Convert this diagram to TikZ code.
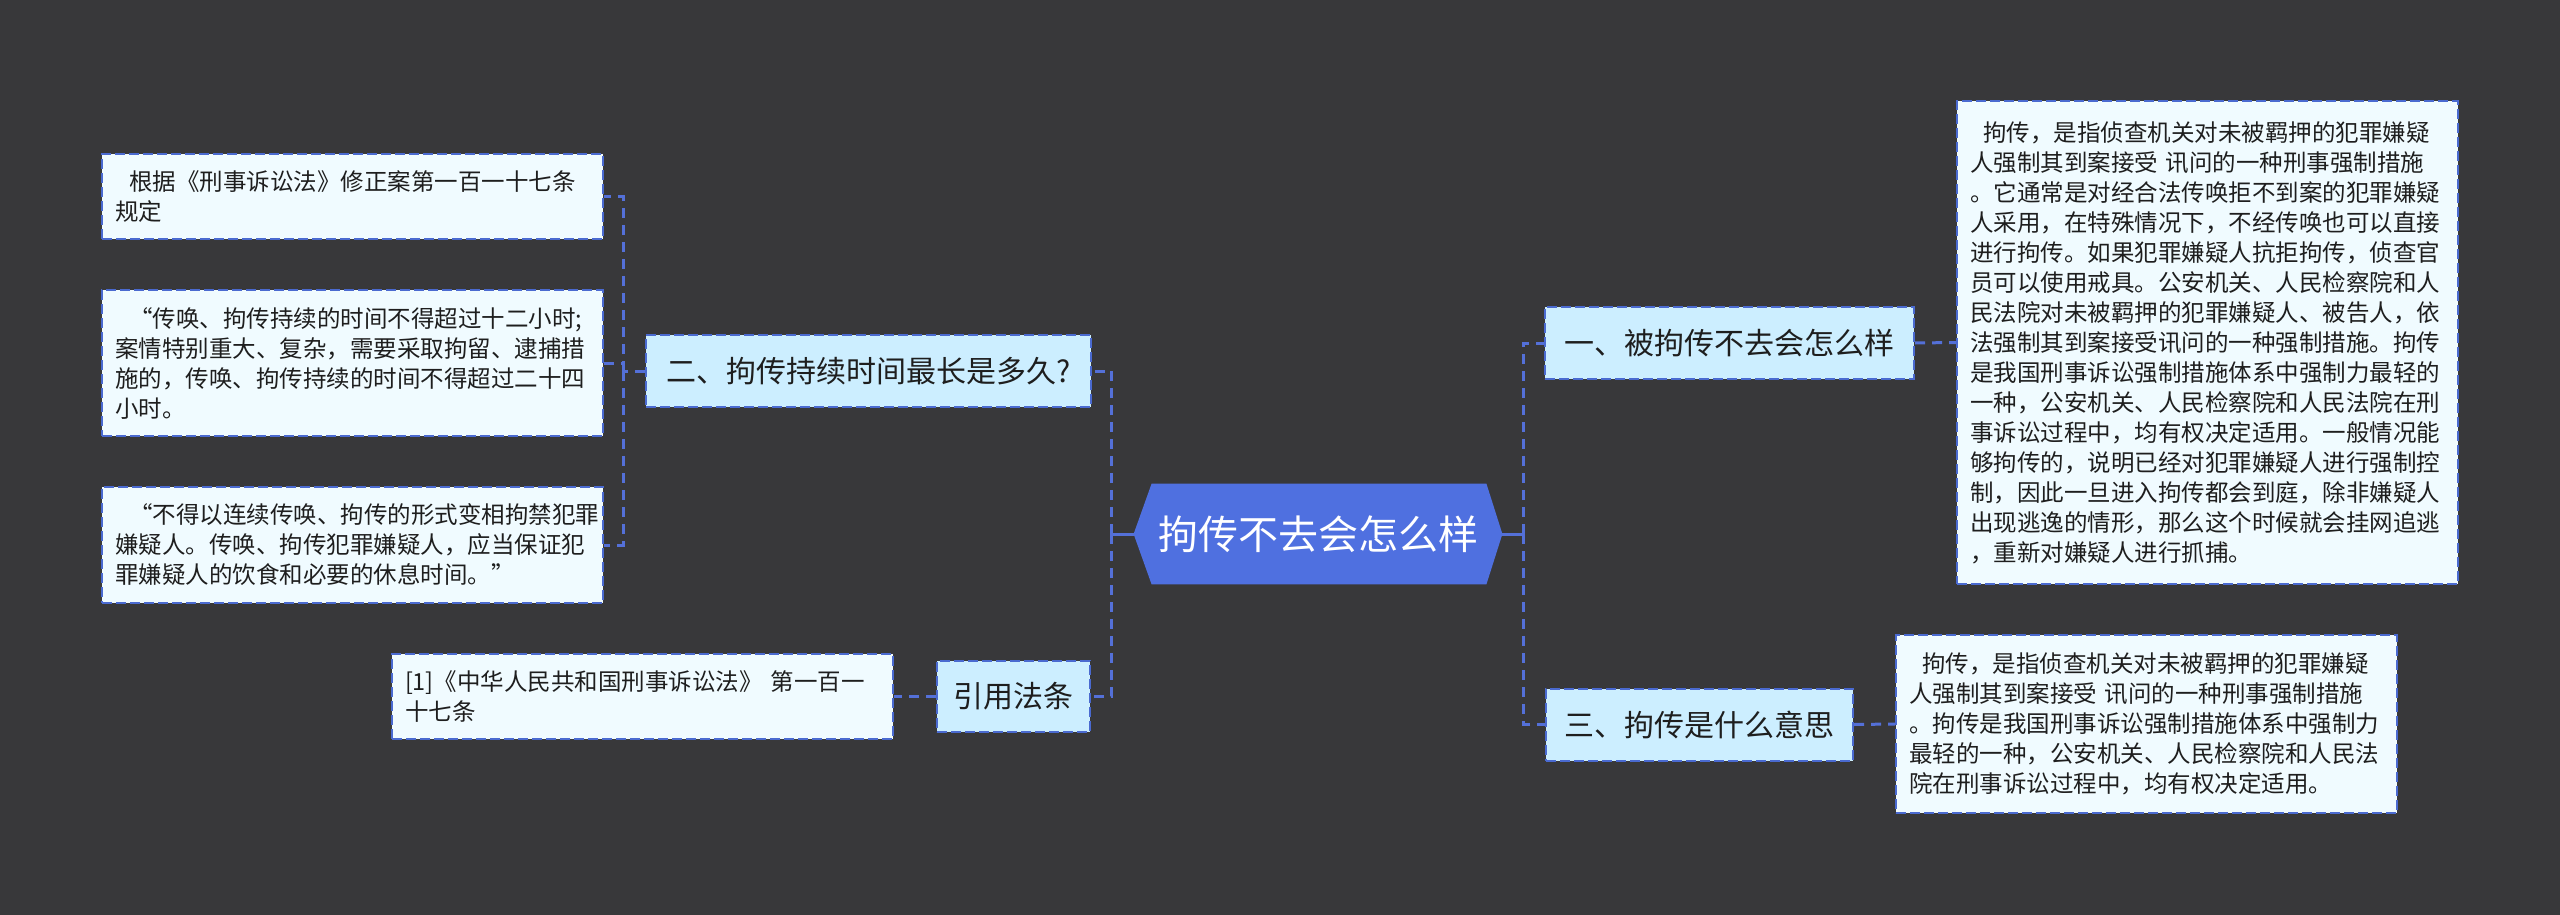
\documentclass[tikz,border=0pt]{standalone}
\usepackage{fontspec}
\setmainfont{Noto Sans CJK SC}
\usetikzlibrary{backgrounds}
\definecolor{bgc}{HTML}{38383A}
\definecolor{linec}{HTML}{5470D8}
\definecolor{borderc}{HTML}{4A6AD0}
\definecolor{detfill}{HTML}{F0FBFF}
\definecolor{brfill}{HTML}{CCEEFF}
\definecolor{cfill}{HTML}{4F70E0}
\definecolor{txt}{HTML}{1E1E1E}
\begin{document}
\begin{tikzpicture}[x=0.5pt,y=-0.5pt,
  detail/.style={draw=borderc,line width=1pt,dash pattern=on 5pt off 2pt,fill=detfill,text=txt,text width=237.5pt,inner xsep=6.5pt,inner ysep=0pt,align=left,font=\fontsize{11.75pt}{15pt}\selectfont},
  branch/.style={draw=borderc,line width=1pt,dash pattern=on 5pt off 2pt,fill=brfill,text=txt,inner sep=0pt,minimum height=36pt,font=\fontsize{15pt}{18pt}\selectfont},
  conn/.style={draw=linec,line width=1.5pt,dash pattern=on 5pt off 3.5pt},
  stub/.style={draw=linec,line width=1.5pt}]
\useasboundingbox (0,0) rectangle (2560,915);
\begin{scope}[on background layer]
\fill[bgc] (0,0) rectangle (2560,915);
\end{scope}

% central
\node[minimum width=184pt,minimum height=50pt,inner sep=0pt,text=white,font=\fontsize{20pt}{24pt}\selectfont] (c) at (1318,534) {拘传不去会怎么样};
\begin{scope}[on background layer]
\fill[cfill] (c.west) -- ([xshift=9pt]c.north west) -- ([xshift=-8pt]c.north east) -- (c.east) -- ([xshift=-8pt]c.south east) -- ([xshift=9pt]c.south west) -- cycle;
\end{scope}

% branches
\node[branch,minimum width=184.5pt] (b1) at (1729.5,343) {一、被拘传不去会怎么样};
\node[branch,minimum width=153.5pt] (b3) at (1699.5,724.5) {三、拘传是什么意思};
\node[branch,minimum width=222.5pt] (b2) at (868.5,371) {二、拘传持续时间最长是多久?};
\node[branch,minimum width=76.5pt,minimum height=35.5pt] (b4) at (1013.5,696.5) {引用法条};

% details
\node[detail,minimum height=241.5pt] (d4) at (2207.5,342.5) {\hspace*{6.5pt}拘传，是指侦查机关对未被羁押的犯罪嫌疑\\人强制其到案接受 讯问的一种刑事强制措施\\。它通常是对经合法传唤拒不到案的犯罪嫌疑\\人采用，在特殊情况下，不经传唤也可以直接\\进行拘传。如果犯罪嫌疑人抗拒拘传，侦查官\\员可以使用戒具。公安机关、人民检察院和人\\民法院对未被羁押的犯罪嫌疑人、被告人，依\\法强制其到案接受讯问的一种强制措施。拘传\\是我国刑事诉讼强制措施体系中强制力最轻的\\一种，公安机关、人民检察院和人民法院在刑\\事诉讼过程中，均有权决定适用。一般情况能\\够拘传的，说明已经对犯罪嫌疑人进行强制控\\制，因此一旦进入拘传都会到庭，除非嫌疑人\\出现逃逸的情形，那么这个时候就会挂网追逃\\，重新对嫌疑人进行抓捕。};
\node[detail,minimum height=89pt] (d5) at (2146.5,724) {\hspace*{6.5pt}拘传，是指侦查机关对未被羁押的犯罪嫌疑\\人强制其到案接受 讯问的一种刑事强制措施\\。拘传是我国刑事诉讼强制措施体系中强制力\\最轻的一种，公安机关、人民检察院和人民法\\院在刑事诉讼过程中，均有权决定适用。};
\node[detail,minimum height=42.5pt] (d1) at (352.5,196.5) {\hspace*{7pt}根据《刑事诉讼法》修正案第一百一十七条\\规定};
\node[detail,minimum height=73pt] (d2) at (352.5,363) {\hspace*{7pt}“传唤、拘传持续的时间不得超过十二小时;\\案情特别重大、复杂，需要采取拘留、逮捕措\\施的，传唤、拘传持续的时间不得超过二十四\\小时。};
\node[detail,minimum height=58pt] (d3) at (352.5,545) {\hspace*{7pt}“不得以连续传唤、拘传的形式变相拘禁犯罪\\嫌疑人。传唤、拘传犯罪嫌疑人，应当保证犯\\罪嫌疑人的饮食和必要的休息时间。”};
\node[detail,minimum height=42.5pt] (d6) at (642.5,696.5) {[1]《中华人民共和国刑事诉讼法》 第一百一\\十七条};

% connectors
\coordinate (lj) at ([xshift=-11pt]c.west);
\coordinate (rj) at ([xshift=10.5pt]c.east);
\coordinate (lk) at ([xshift=-11pt]b2.west);
\draw[stub] (c.west) -- (lj);
\draw[stub] (c.east) -- (rj);
\draw[conn] (lj) |- (b2.east);
\draw[conn] (lj) |- (b4.east);
\draw[conn] (rj) |- (b1.west);
\draw[conn] (rj) |- (b3.west);
\draw[conn] (b1.east) -- (d4.west);
\draw[conn] (b3.east) -- (d5.west);
\draw[conn] (b4.west) -- (d6.east);
\draw[conn] (b2.west) -- (lk);
\draw[conn] (lk) |- (d1.east);
\draw[conn] (lk) |- (d2.east);
\draw[conn] (lk) |- (d3.east);
\end{tikzpicture}
\end{document}
